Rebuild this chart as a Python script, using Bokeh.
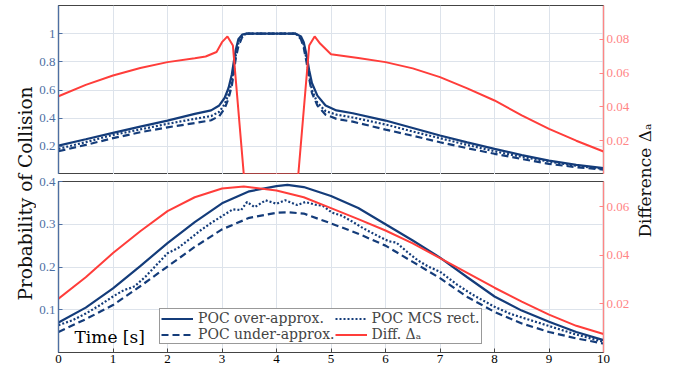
import math
from bokeh.plotting import figure
from bokeh.models import Range1d, LinearAxis, FixedTicker, Label, Legend, LegendItem
from bokeh.layouts import row, column
from bokeh.embed import file_html
from bokeh.resources import INLINE

# ---------------- data ----------------
t_top = [0, 0.5, 1, 1.5, 2, 2.5, 2.8, 2.95, 3.05, 3.12, 3.18, 3.22, 3.25, 3.3, 3.37, 3.45,
         4.35, 4.45, 4.5, 4.55, 4.6, 4.65, 4.75, 4.9, 5.1, 5.4, 6, 6.5, 7, 7.5, 8, 8.5, 9, 9.5, 10]
over_top = [0.205, 0.25, 0.296, 0.34, 0.383, 0.43, 0.455, 0.49, 0.545, 0.615, 0.71, 0.81, 0.88, 0.96, 0.993, 1.0,
            1.0, 0.98, 0.94, 0.85, 0.74, 0.65, 0.56, 0.49, 0.455, 0.435, 0.383, 0.33, 0.277, 0.228, 0.182, 0.138, 0.099, 0.068, 0.045]
mcs_top = [0.182, 0.23, 0.281, 0.32, 0.36, 0.395, 0.415, 0.445, 0.50, 0.57, 0.66, 0.76, 0.84, 0.93, 0.985, 1.0,
           1.0, 0.97, 0.92, 0.82, 0.70, 0.60, 0.51, 0.45, 0.425, 0.405, 0.355, 0.305, 0.258, 0.21, 0.165, 0.125, 0.092, 0.062, 0.04]
under_top = [0.165, 0.21, 0.258, 0.30, 0.335, 0.365, 0.385, 0.415, 0.47, 0.54, 0.63, 0.73, 0.82, 0.91, 0.975, 1.0,
             1.0, 0.96, 0.9, 0.80, 0.68, 0.58, 0.49, 0.425, 0.395, 0.375, 0.319, 0.275, 0.229, 0.187, 0.147, 0.11, 0.076, 0.052, 0.035]
t_diff_top = [0, 0.5, 1, 1.5, 2, 2.5, 2.7, 2.9, 3.0, 3.1, 3.2, 3.4, 4.4, 4.6, 4.7, 4.8, 5.0, 5.5,
              6, 6.5, 7, 7.5, 8, 8.5, 9, 9.5, 10]
diff_top = [0.0463, 0.053, 0.0586, 0.063, 0.0665, 0.0688, 0.0698, 0.0725, 0.0783, 0.0817, 0.0763, 0.0, 0.0,
            0.0763, 0.0817, 0.0775, 0.0712, 0.069, 0.0665, 0.0628, 0.0576, 0.051, 0.0438, 0.035, 0.027, 0.02, 0.0136]

t_bot = [0, 0.5, 1, 1.5, 2, 2.5, 3, 3.5, 4, 4.2, 4.5, 5, 5.5, 6, 6.5, 7, 7.5, 8, 8.5, 9, 9.5, 10]
over_bot = [0.070, 0.105, 0.150, 0.202, 0.256, 0.305, 0.349, 0.377, 0.389, 0.392, 0.387, 0.366, 0.338, 0.300,
            0.262, 0.222, 0.176, 0.131, 0.098, 0.072, 0.048, 0.029]
under_bot = [0.048, 0.078, 0.111, 0.155, 0.201, 0.247, 0.288, 0.315, 0.327, 0.328, 0.325, 0.302, 0.278, 0.25,
             0.212, 0.174, 0.13, 0.095, 0.068, 0.048, 0.033, 0.021]
t_mcs_bot = [0, 0.25, 0.5, 0.75, 1, 1.2, 1.3, 1.4, 1.6, 1.8, 2, 2.2, 2.4, 2.6, 2.8, 3, 3.2, 3.35, 3.46, 3.6,
             3.8, 4.0, 4.16, 4.38, 4.53, 4.71, 4.85, 5.02, 5.2, 5.38, 5.6, 5.87, 6.06, 6.2, 6.4, 6.6, 6.8, 7,
             7.3, 7.6, 8, 8.3, 8.6, 9, 9.5, 10]
mcs_bot = [0.064, 0.075, 0.091, 0.11, 0.131, 0.146, 0.150, 0.155, 0.178, 0.205, 0.232, 0.245, 0.265, 0.285, 0.303,
           0.319, 0.335, 0.333, 0.352, 0.34, 0.356, 0.348, 0.356, 0.345, 0.352, 0.346, 0.343, 0.327, 0.32, 0.307,
           0.29, 0.272, 0.26, 0.257, 0.235, 0.215, 0.2, 0.189, 0.16, 0.135, 0.107, 0.09, 0.078, 0.062, 0.042, 0.025]
t_diff_bot = [0, 0.5, 1, 1.5, 2, 2.5, 3, 3.4, 4, 4.5, 5, 5.5, 6, 6.5, 7, 7.5, 8, 8.5, 9, 9.5, 10]
diff_bot = [0.0222, 0.031, 0.041, 0.050, 0.0583, 0.064, 0.0676, 0.0684, 0.0668, 0.064, 0.0595, 0.055, 0.0503,
            0.045, 0.0389, 0.0328, 0.0267, 0.021, 0.0156, 0.011, 0.0076]

x_ticks = [0, 1, 2, 3, 4, 5, 6, 7, 8, 9, 10]
top_left_ticks = [0.2, 0.4, 0.6, 0.8, 1.0]
top_right_ticks = [0.02, 0.04, 0.06, 0.08]
bot_left_ticks = [0.1, 0.2, 0.3, 0.4]
bot_right_ticks = [0.02, 0.04, 0.06]

legend_labels = ["POC over-approx.", "POC under-approx.", "POC MCS rect.", "Diff. \u0394\u2090"]
ylabel_left = "Probability of Collision"
ylabel_right = "Difference \u0394\u2090"
xlabel = "Time [s]"

# ---------------- style ----------------
BLUE = "#143c7a"
RED = "#ff3d3a"
LBLUE = "#4d6fa3"
LRED = "#ff8585"
DARK = "#444444"
GRID = "#dde3eb"
TICKFONT = "Liberation Serif"
TXTFONT = "DejaVu Serif"


def style_axis(ax, line_color, label_color):
    ax.axis_line_color = line_color
    ax.axis_line_width = 1.2
    ax.major_tick_line_color = line_color
    ax.major_tick_in = 4
    ax.major_tick_out = 0
    ax.minor_tick_line_color = None
    ax.major_label_text_font = TICKFONT
    ax.major_label_text_color = label_color
    ax.major_label_text_font_size = "13px"
    ax.major_label_standoff = 3


def make_panel(height, yr, yr_right, lticks, rticks, min_top, min_bottom, show_x):
    p = figure(width=596, height=height, x_range=Range1d(0, 10), y_range=yr,
               output_backend="svg", toolbar_location=None,
               x_axis_location="below" if show_x else None,
               min_border_left=20, min_border_right=27,
               min_border_top=min_top, min_border_bottom=min_bottom)
    p.extra_y_ranges = {"r": yr_right}
    p.outline_line_color = DARK
    p.outline_line_width = 1.2
    p.background_fill_color = "white"
    p.border_fill_color = "white"
    if show_x:
        p.xaxis.ticker = FixedTicker(ticks=x_ticks)
        style_axis(p.xaxis[0], DARK, "black")
        p.xaxis.major_label_standoff = 2
    p.yaxis.ticker = FixedTicker(ticks=lticks)
    style_axis(p.yaxis[0], LBLUE, LBLUE)
    p.yaxis.major_label_overrides = {1.0: "1"}
    ax_r = LinearAxis(y_range_name="r", ticker=FixedTicker(ticks=rticks))
    style_axis(ax_r, LRED, LRED)
    p.add_layout(ax_r, "right")
    for g in p.grid:
        g.ticker = FixedTicker(ticks=x_ticks if g.dimension == 0 else lticks)
        g.grid_line_color = GRID
        g.grid_line_width = 1
    return p


p1 = make_panel(174, Range1d(0, 1.2), Range1d(0, 0.1), top_left_ticks, top_right_ticks, 5, 0, False)
p1.line(t_top, over_top, line_color=BLUE, line_width=2.2)
p1.line(t_top, mcs_top, line_color=BLUE, line_width=2.2, line_dash="2 2")
p1.line(t_top, under_top, line_color=BLUE, line_width=2.2, line_dash="7 4")
p1.line(t_diff_top, diff_top, line_color=RED, line_width=2, y_range_name="r")

p2 = make_panel(199, Range1d(0, 0.4), Range1d(0, 0.0705), bot_left_ticks, bot_right_ticks, 7, 21, True)
r_over = p2.line(t_bot, over_bot, line_color=BLUE, line_width=2.2)
r_mcs = p2.line(t_mcs_bot, mcs_bot, line_color=BLUE, line_width=2.2, line_dash="2 2")
r_under = p2.line(t_bot, under_bot, line_color=BLUE, line_width=2.2, line_dash="7 4")
r_diff = p2.line(t_diff_bot, diff_bot, line_color=RED, line_width=2, y_range_name="r")

legend = Legend(items=[LegendItem(label=legend_labels[0], renderers=[r_over]),
                       LegendItem(label=legend_labels[1], renderers=[r_under]),
                       LegendItem(label=legend_labels[2], renderers=[r_mcs]),
                       LegendItem(label=legend_labels[3], renderers=[r_diff])],
                ncols=2, location=(101, 8), orientation="vertical")
legend.label_text_font = TXTFONT
legend.label_text_font_size = "14px"
legend.label_height = 15
legend.glyph_height = 15
legend.glyph_width = 32
legend.label_standoff = 5
legend.spacing = 0
legend.padding = 1
legend.margin = 0
legend.border_line_color = "#333333"
legend.border_line_width = 1
legend.background_fill_color = "white"
legend.background_fill_alpha = 1
p2.add_layout(legend, "center")

p2.add_layout(Label(x=16, y=16, x_units="screen", y_units="screen", text=xlabel,
                    text_font=TXTFONT, text_font_size="17px", text_color="black",
                    text_baseline="alphabetic", text_align="left"))

# side label strips
L = figure(width=36, height=373, x_range=Range1d(0, 1), y_range=Range1d(0, 1),
           output_backend="svg", toolbar_location=None, min_border=0,
           x_axis_location=None, y_axis_location=None)
L.outline_line_color = None
L.grid.visible = False
L.add_layout(Label(x=25, y=180, x_units="screen", y_units="screen", text=ylabel_left,
                   angle=math.pi / 2, text_font=TXTFONT, text_font_size="18.5px",
                   text_align="center", text_baseline="middle", text_color="#111111"))

R = figure(width=45, height=373, x_range=Range1d(0, 1), y_range=Range1d(0, 1),
           output_backend="svg", toolbar_location=None, min_border=0,
           x_axis_location=None, y_axis_location=None)
R.outline_line_color = None
R.grid.visible = False
R.add_layout(Label(x=12, y=193, x_units="screen", y_units="screen", text=ylabel_right,
                   angle=math.pi / 2, text_font=TXTFONT, text_font_size="17px",
                   text_align="center", text_baseline="middle", text_color="#111111"))

layout = row(L, column(p1, p2), R)
open("out.html", "w").write(file_html(layout, INLINE))
